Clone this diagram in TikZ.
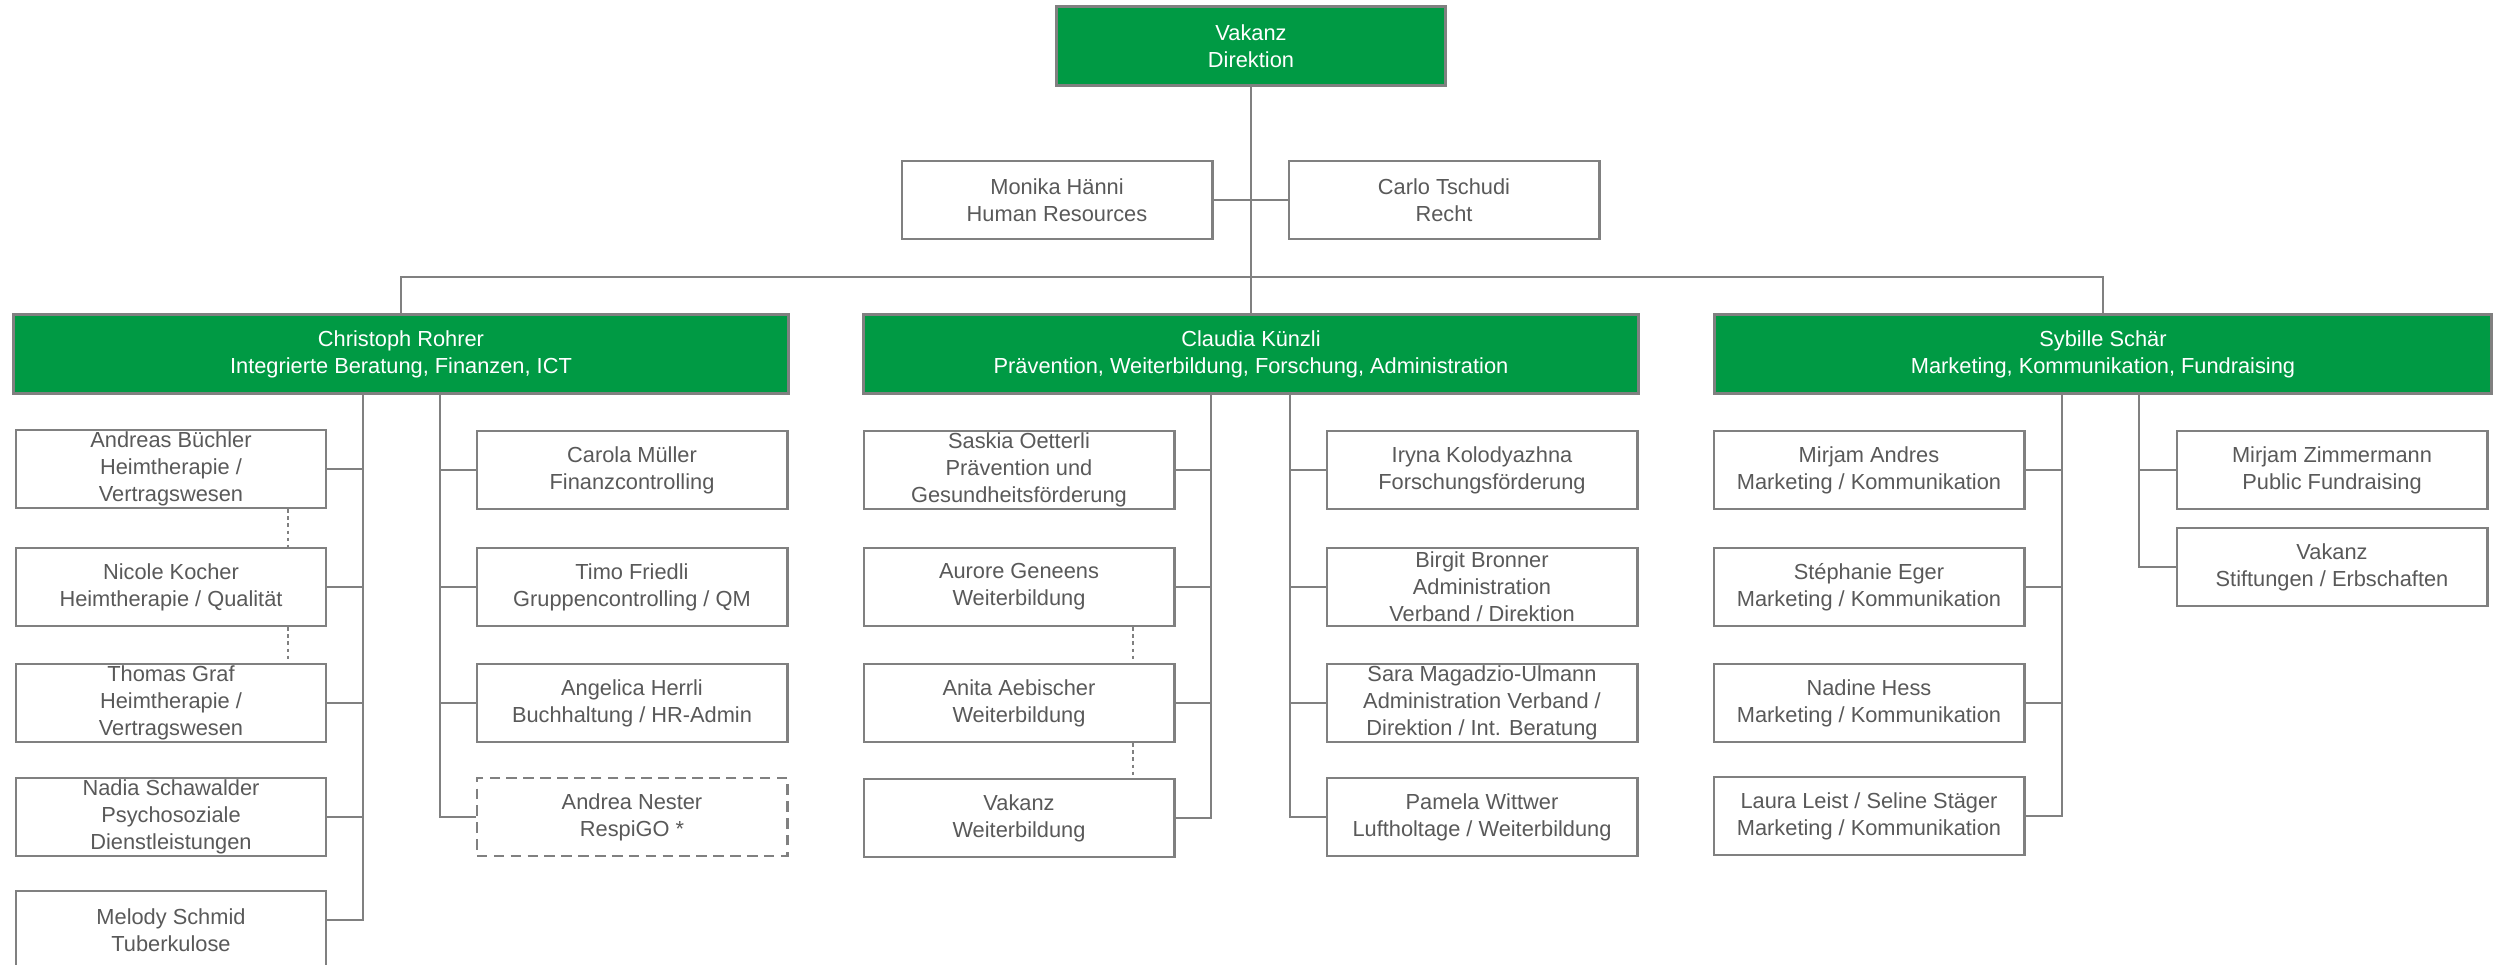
\documentclass[tikz,border=0pt]{standalone}
\usepackage{fontspec}
\setmainfont{Liberation Sans}
\definecolor{kgreen}{RGB}{0,154,68}
\definecolor{kline}{RGB}{128,128,128}
\definecolor{ktext}{RGB}{89,89,89}
\tikzset{>=stealth}
\tikzset{
    box/.style={draw=kline, fill=white, line width=0.8pt, minimum width=3.1cm, minimum height=0.78cm,
        inner sep=0pt, align=center, text=ktext, font=\fontsize{6.2}{7.7}\selectfont},
    lead/.style={box, fill=kgreen, text=white, minimum height=0.79cm},
    extern/.style={box, dash pattern=on 3pt off 1.8pt},
    link/.style={draw=kline, line width=0.8pt},
    sub/.style={draw=kline, line width=0.6pt, dash pattern=on 1pt off 1pt}
}

\begin{document}
\begin{tikzpicture}[x=0.01cm, y=-0.01cm]
    \useasboundingbox (0,0) rectangle (2496,965);
    % Leitung
    \node[lead, minimum width=3.89cm] (dir) at (1251,46) {Vakanz\\Direktion};
    \node[box] (hr) at (1057,200) {Monika Hänni\\Human Resources};
    \node[box] (recht) at (1444,200) {Carlo Tschudi\\Recht};
    \node[lead, minimum width=7.74cm] (rohrer) at (401,354) {Christoph Rohrer\\Integrierte Beratung, Finanzen, ICT};
    \node[lead, minimum width=7.74cm] (kuenzli) at (1251,354) {Claudia Künzli\\Prävention, Weiterbildung, Forschung, Administration};
    \node[lead, minimum width=7.76cm] (schaer) at (2103,354) {Sybille Schär\\Marketing, Kommunikation, Fundraising};
    \coordinate (bus) at (1251,277);
    \draw[link] (dir) -- (kuenzli);
    \draw[link] (hr.east) -- (hr.east -| dir);
    \draw[link] (recht.west) -- (recht.west -| dir);
    \draw[link] (rohrer.north) |- (bus) -| (schaer.north);
    % Rohrer
    \node[box] (buechler) at (171,469) {Andreas Büchler\\Heimtherapie /\\Vertragswesen};
    \node[box] (kocher) at (171,587) {Nicole Kocher\\Heimtherapie / Qualität};
    \node[box] (graf) at (171,703) {Thomas Graf\\Heimtherapie /\\Vertragswesen};
    \node[box] (schawalder) at (171,817) {Nadia Schawalder\\Psychosoziale\\Dienstleistungen};
    \node[box] (schmid) at (171,930) {Melody Schmid\\Tuberkulose};
    \node[box] (mueller) at (632,470) {Carola Müller\\Finanzcontrolling};
    \node[box] (friedli) at (632,587) {Timo Friedli\\Gruppencontrolling / QM};
    \node[box] (herrli) at (632,703) {Angelica Herrli\\Buchhaltung / HR-Admin};
    \node[extern] (nester) at (632,817) {Andrea Nester\\RespiGO *};
    \coordinate (rL) at (363,394);
    \coordinate (rR) at (440,394);
    \draw[link] (rL) |- ([yshift=0.1cm]schmid.east);
    \draw[link] (rR) |- (nester.west);
    \foreach \n in {buechler,kocher,graf,schawalder}
        \draw[link] (\n.east) -- (\n.east -| rL);
    \foreach \n in {mueller,friedli,herrli}
        \draw[link] (\n.west) -- (\n.west -| rR);
    \draw[sub] ([xshift=1.17cm]buechler.south) -- ([xshift=1.17cm]kocher.north);
    \draw[sub] ([xshift=1.17cm]kocher.south) -- ([xshift=1.17cm]graf.north);
    % Kuenzli
    \node[box] (oetterli) at (1019,470) {Saskia Oetterli\\Prävention und\\Gesundheitsförderung};
    \node[box] (geneens) at (1019,587) {Aurore Geneens\\Weiterbildung};
    \node[box] (aebischer) at (1019,703) {Anita Aebischer\\Weiterbildung};
    \node[box] (wbvakanz) at (1019,818) {Vakanz\\Weiterbildung};
    \node[box] (kolodyazhna) at (1482,470) {Iryna Kolodyazhna\\Forschungsförderung};
    \node[box] (bronner) at (1482,587) {Birgit Bronner\\Administration\\Verband / Direktion};
    \node[box] (magadzio) at (1482,703) {Sara Magadzio-Ulmann\\Administration Verband /\\Direktion / Int. Beratung};
    \node[box] (wittwer) at (1482,817) {Pamela Wittwer\\Luftholtage / Weiterbildung};
    \coordinate (kL) at (1211,394);
    \coordinate (kR) at (1290,394);
    \draw[link] (kL) |- (wbvakanz.east);
    \draw[link] (kR) |- (wittwer.west);
    \foreach \n in {oetterli,geneens,aebischer}
        \draw[link] (\n.east) -- (\n.east -| kL);
    \foreach \n in {kolodyazhna,bronner,magadzio}
        \draw[link] (\n.west) -- (\n.west -| kR);
    \draw[sub] ([xshift=1.14cm]geneens.south) -- ([xshift=1.14cm]aebischer.north);
    \draw[sub] ([xshift=1.14cm]aebischer.south) -- ([xshift=1.14cm]wbvakanz.north);
    % Schaer
    \node[box] (andres) at (1869,470) {Mirjam Andres\\Marketing / Kommunikation};
    \node[box] (eger) at (1869,587) {Stéphanie Eger\\Marketing / Kommunikation};
    \node[box] (hess) at (1869,703) {Nadine Hess\\Marketing / Kommunikation};
    \node[box] (leist) at (1869,816) {Laura Leist / Seline Stäger\\Marketing / Kommunikation};
    \node[box] (zimmermann) at (2332,470) {Mirjam Zimmermann\\Public Fundraising};
    \node[box] (stvakanz) at (2332,567) {Vakanz\\Stiftungen / Erbschaften};
    \coordinate (sL) at (2062,394);
    \coordinate (sR) at (2139,394);
    \draw[link] (sL) |- (leist.east);
    \draw[link] (sR) |- (stvakanz.west);
    \foreach \n in {andres,eger,hess}
        \draw[link] (\n.east) -- (\n.east -| sL);
    \draw[link] (zimmermann.west) -- (zimmermann.west -| sR);
\end{tikzpicture}
\end{document}
